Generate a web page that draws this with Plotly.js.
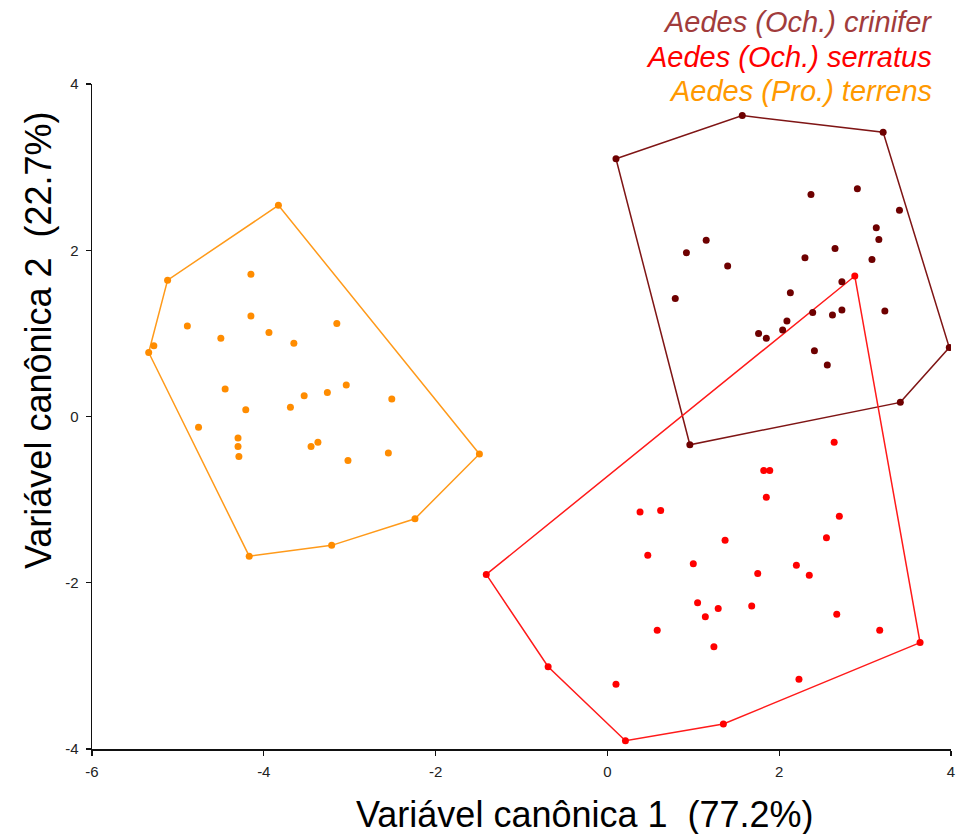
<!DOCTYPE html>
<html>
<head>
<meta charset="utf-8">
<script src="https://cdn.plot.ly/plotly-3.0.1.min.js"></script>
<style>html,body{margin:0;padding:0;background:#fff;}#chart{width:957px;height:834px;}</style>
</head>
<body>
<div id="chart"></div>
<script>
// Canonical variate scores
var species = ["Aedes (Och.) crinifer", "Aedes (Och.) serratus", "Aedes (Pro.) terrens"];

var crinifer_x = [0.10, 1.57, 3.21, 3.98, 3.41, 0.96, 2.37, 2.91, 3.40, 3.13, 3.16, 1.15, 0.92, 2.65, 2.30, 3.08, 1.40, 2.73, 2.13, 0.79, 2.39, 2.62, 2.73, 3.23, 2.09, 2.04, 1.76, 1.85, 2.41, 2.56];
var crinifer_y = [3.10, 3.62, 3.42, 0.83, 0.17, -0.34, 2.67, 2.74, 2.48, 2.27, 2.13, 2.12, 1.97, 2.02, 1.91, 1.89, 1.81, 1.62, 1.49, 1.42, 1.25, 1.22, 1.28, 1.27, 1.15, 1.04, 1.00, 0.94, 0.79, 0.62];

var serratus_x = [-1.41, -0.69, 0.21, 1.35, 3.64, 2.88, 2.64, 1.82, 1.89, 1.85, 0.38, 0.62, 2.70, 1.37, 2.55, 0.47, 1.00, 1.75, 2.20, 2.35, 1.05, 1.29, 1.14, 1.68, 2.67, 0.58, 3.17, 1.24, 0.10, 2.23];
var serratus_y = [-1.90, -3.01, -3.90, -3.70, -2.72, 1.69, -0.31, -0.65, -0.65, -0.97, -1.15, -1.13, -1.20, -1.49, -1.46, -1.67, -1.77, -1.89, -1.79, -1.91, -2.24, -2.31, -2.41, -2.28, -2.38, -2.57, -2.57, -2.77, -3.22, -3.16];

var terrens_x = [-3.83, -5.12, -5.34, -4.17, -3.21, -2.24, -1.49, -5.28, -4.15, -4.15, -4.89, -4.50, -3.94, -3.65, -3.15, -4.45, -4.21, -3.69, -3.53, -3.26, -3.04, -2.51, -4.76, -4.30, -4.30, -4.29, -3.45, -3.37, -3.02, -2.55];
var terrens_y = [2.54, 1.64, 0.77, -1.68, -1.55, -1.23, -0.45, 0.85, 1.71, 1.21, 1.09, 0.94, 1.01, 0.88, 1.12, 0.33, 0.08, 0.11, 0.25, 0.29, 0.38, 0.21, -0.13, -0.26, -0.36, -0.48, -0.36, -0.31, -0.53, -0.44];

var xTicks = [-6, -4, -2, 0, 2, 4];
var yTicks = [-4, -2, 0, 2, 4];

var markerColors = ["#6e0000", "#ff0000", "#ff8c00"];
var lineColors = ["#7f1515", "#ff1a1a", "#ff9a1a"];
var legendColors = ["#a13c3c", "#ff0000", "#ff9900"];

function convexHull(xs, ys) {
  var pts = xs.map(function (x, i) { return [x, ys[i]]; });
  pts.sort(function (a, b) { return a[0] - b[0] || a[1] - b[1]; });
  function cross(o, a, b) { return (a[0] - o[0]) * (b[1] - o[1]) - (a[1] - o[1]) * (b[0] - o[0]); }
  var lower = [], upper = [];
  pts.forEach(function (p) {
    while (lower.length >= 2 && cross(lower[lower.length - 2], lower[lower.length - 1], p) <= 0) lower.pop();
    lower.push(p);
  });
  for (var i = pts.length - 1; i >= 0; i--) {
    var p = pts[i];
    while (upper.length >= 2 && cross(upper[upper.length - 2], upper[upper.length - 1], p) <= 0) upper.pop();
    upper.push(p);
  }
  upper.pop(); lower.pop();
  var h = lower.concat(upper);
  h.push(h[0]);
  return h;
}

var groups = [[crinifer_x, crinifer_y], [serratus_x, serratus_y], [terrens_x, terrens_y]];
var traces = [];
groups.forEach(function (g, k) {
  var h = convexHull(g[0], g[1]);
  traces.push({
    x: h.map(function (p) { return p[0]; }),
    y: h.map(function (p) { return p[1]; }),
    mode: "lines", type: "scatter", hoverinfo: "skip", showlegend: false,
    line: { color: lineColors[k], width: 1.5 }
  });
});
groups.forEach(function (g, k) {
  traces.push({
    x: g[0], y: g[1], mode: "markers", type: "scatter", name: species[k], showlegend: false,
    marker: { color: markerColors[k], size: 7 }
  });
});

var sans = "'Liberation Sans', Arial, sans-serif";
function px2x(px) { return (px - 92) / 859; }
function px2y(py) { return (749 - py) / 665; }

var annotations = species.map(function (s, k) {
  return {
    xref: "paper", yref: "paper", x: px2x(934), y: px2y([22, 57.5, 91][k]),
    xanchor: "right", yanchor: "middle", showarrow: false,
    text: "<i>" + s + "</i>",
    font: { family: sans, size: 29, color: legendColors[k] }
  };
});
annotations.push({
  xref: "paper", yref: "paper", x: px2x(585), y: px2y(814),
  xanchor: "center", yanchor: "middle", showarrow: false,
  text: "Variável canônica 1\u00a0\u00a0(77.2%)",
  font: { family: sans, size: 36, color: "#000" }
});
annotations.push({
  xref: "paper", yref: "paper", x: px2x(38), y: px2y(340),
  xanchor: "center", yanchor: "middle", showarrow: false, textangle: -90,
  text: "Variável canônica 2\u00a0\u00a0(22.7%)",
  font: { family: sans, size: 36, color: "#000" }
});

var axisCommon = {
  showgrid: false, zeroline: false, showline: true, linecolor: "#111", linewidth: 1.5,
  ticks: "outside", ticklen: 5, tickwidth: 1.2, tickcolor: "#111",
  tickfont: { family: sans, size: 15, color: "#222" }, fixedrange: true
};

var layout = {
  width: 957, height: 834,
  margin: { l: 92, r: 6, t: 84, b: 85 },
  paper_bgcolor: "#fff", plot_bgcolor: "#fff",
  xaxis: Object.assign({}, axisCommon, { range: [-6, 4], tickvals: xTicks, ticktext: xTicks.map(String), ticklabelstandoff: 3 }),
  yaxis: Object.assign({}, axisCommon, { range: [-4, 4], tickvals: yTicks, ticktext: yTicks.map(String), ticklabelstandoff: 4 }),
  annotations: annotations,
  showlegend: false
};

Plotly.newPlot("chart", traces, layout, { displayModeBar: false, staticPlot: true });
</script>
</body>
</html>
